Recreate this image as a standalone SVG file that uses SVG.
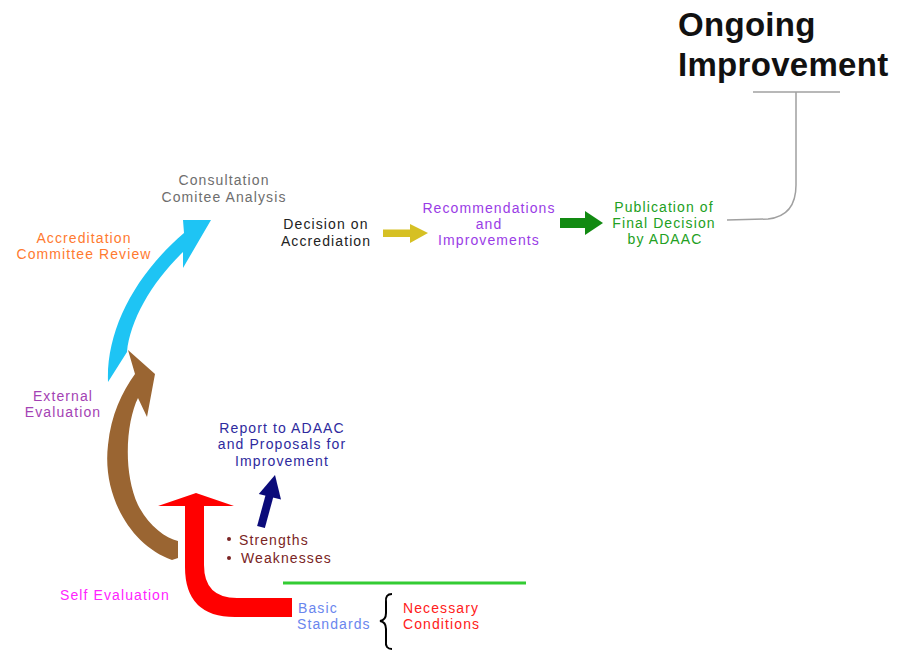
<svg xmlns="http://www.w3.org/2000/svg" width="899" height="650" viewBox="0 0 899 650">
<style>
text{font-family:"Liberation Sans",Arial,sans-serif;font-size:14px;letter-spacing:1.1px}
.c{text-anchor:middle}
.title{font-size:33px;font-weight:bold;letter-spacing:0.3px;fill:#111}
.line{fill:none;stroke:#a0a0a0;stroke-width:1.5}
</style>
<rect width="899" height="650" fill="#fff"/>
<g id="connectors">
<path id="arrow-blue" d="M108,382 C106,330 135,275 184,233 L183,220 L211,220 L183,268 L183,252 C152,282 130,320 127,352 Z" fill="#1ec4f4"/>
<path id="arrow-brown" d="M172,560 C130,545 102,495 108,445 C111,415 122,392 135,374 L128,350 L155,374 L147,417 L138,398 C127,420 122,470 138,505 C148,525 165,538 178,541 L178,558 Z" fill="#9a6532"/>
<path id="arrow-red" d="M292,617 L235,617 Q185,617 185,567 L185,506 L158,506 L196,493 L234,506 L204,506 L204,565 Q204,598 237,598 L292,598 Z" fill="#ff0000"/>
<g id="arrow-navy" fill="#0b0b7a">
<line x1="261" y1="527" x2="270" y2="494" stroke="#0b0b7a" stroke-width="8"/>
<polygon points="275,475 258.8,494 281,499.5"/>
</g>
<g id="arrow-yellow" fill="#d6c024">
<rect x="383" y="229.5" width="28" height="7.5"/>
<polygon points="410,224 428,233 410,243"/>
</g>
<g id="arrow-green" fill="#128a12">
<rect x="560" y="218" width="26" height="10"/>
<polygon points="585,211 603,223 585,235"/>
</g>
<path id="ongoing-link" class="line" d="M727,220 L768,219 Q796,216 796,185 L796,92"/>
<line class="line" x1="753" y1="92" x2="840" y2="92"/>
<line id="green-rule" x1="283" y1="583" x2="526" y2="583" stroke="#33cc33" stroke-width="3"/>
<path id="brace" d="M392,594 Q385,594 386,602 L386,613 Q386,620 380,621 Q386,622 386,629 L386,641 Q385,649 392,649" fill="none" stroke="#000" stroke-width="2"/>
</g>
<g id="node-ongoing">
<text class="title" x="678" y="36">Ongoing</text>
<text class="title" x="678" y="76">Improvement</text>
</g>
<g id="node-consultation" fill="#6e6e6e">
<text class="c" x="224" y="185">Consultation</text>
<text class="c" x="224" y="202">Comitee Analysis</text>
</g>
<g id="node-acc-review" fill="#ff7a30">
<text class="c" x="84" y="243">Accreditation</text>
<text class="c" x="84" y="259">Committee Review</text>
</g>
<g id="node-decision" fill="#222">
<text class="c" x="326" y="229">Decision on</text>
<text class="c" x="326" y="246">Accrediation</text>
</g>
<g id="node-recommendations" fill="#9a3ce6">
<text class="c" x="489" y="213">Recommendations</text>
<text class="c" x="489" y="229">and</text>
<text class="c" x="489" y="245">Improvements</text>
</g>
<g id="node-publication" fill="#22a022">
<text class="c" x="664" y="212">Publication of</text>
<text class="c" x="664" y="228">Final Decision</text>
<text class="c" x="665" y="244">by ADAAC</text>
</g>
<g id="node-external" fill="#a442b4">
<text class="c" x="63" y="401">External</text>
<text class="c" x="63" y="417">Evaluation</text>
</g>
<g id="node-report" fill="#2e2a9e">
<text class="c" x="282" y="433">Report to ADAAC</text>
<text class="c" x="282" y="449">and Proposals for</text>
<text class="c" x="282" y="466">Improvement</text>
</g>
<g id="node-sw" fill="#7a2424">
<circle cx="229" cy="539" r="2"/>
<circle cx="229" cy="558" r="2"/>
<text x="239" y="545">Strengths</text>
<text x="241" y="563">Weaknesses</text>
</g>
<g id="node-self" fill="#ff22ff">
<text x="60" y="600">Self Evaluation</text>
</g>
<g id="node-basic" fill="#6a86ee">
<text x="298" y="613">Basic</text>
<text x="297" y="629">Standards</text>
</g>
<g id="node-necessary" fill="#ff2020">
<text x="403" y="613">Necessary</text>
<text x="403" y="629">Conditions</text>
</g>
</svg>
